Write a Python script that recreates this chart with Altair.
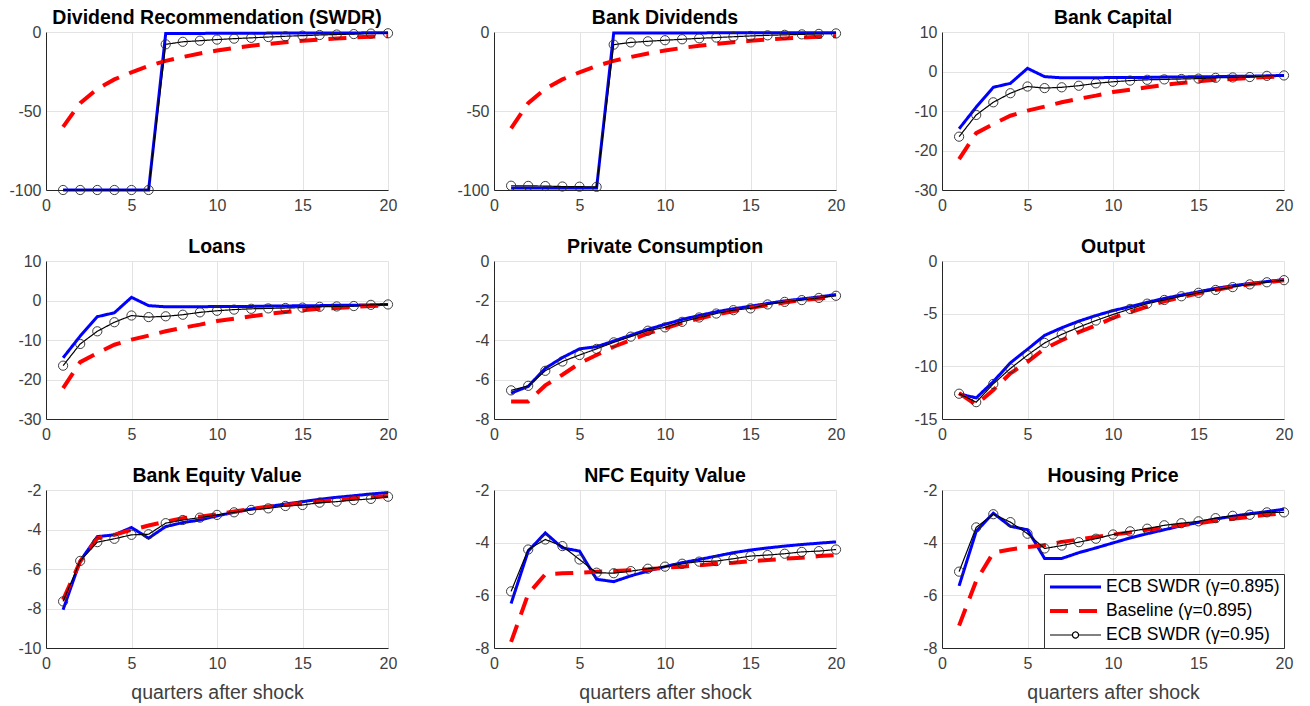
import altair as alt
import pandas as pd

quarters = list(range(1, 21))

series_names = ["ECB SWDR (γ=0.895)", "Baseline (γ=0.895)", "ECB SWDR (γ=0.95)"]
series_colors = ["#0000ff", "#ff0000", "#000000"]

titles = ["Dividend Recommendation (SWDR)", "Bank Dividends", "Bank Capital",
          "Loans", "Private Consumption", "Output",
          "Bank Equity Value", "NFC Equity Value", "Housing Price"]

# --- Dividend Recommendation (SWDR)
divrec_blue = [-100, -100, -100, -100, -100, -100, -1.0, -0.9, -0.9, -0.8, -0.8, -0.8, -0.7, -0.7, -0.7, -0.6, -0.6, -0.6, -0.5, -0.5]
divrec_red = [-60, -45, -36, -30, -25.5, -21.5, -18.3, -15.8, -13.6, -11.7, -10.1, -8.7, -7.5, -6.5, -5.6, -4.8, -4.1, -3.5, -3.0, -2.6]
divrec_black = [-100, -100, -100, -100, -100, -100, -7.8, -6.2, -5.5, -4.8, -4.2, -3.7, -3.2, -2.7, -2.3, -1.9, -1.6, -1.3, -1.0, -0.8]
# --- Bank Dividends
bdiv_blue = [-98.7, -98.7, -98.7, -98.7, -98.7, -98.7, -0.7, -0.7, -0.6, -0.6, -0.6, -0.6, -0.5, -0.5, -0.5, -0.5, -0.4, -0.4, -0.4, -0.4]
bdiv_red = [-61, -45, -36, -30, -25.5, -21.5, -18.3, -15.8, -13.6, -11.7, -10.1, -8.7, -7.5, -6.5, -5.6, -4.8, -4.1, -3.5, -3.0, -2.6]
bdiv_black = [-97.3, -97.4, -97.5, -97.8, -97.9, -98.0, -8.0, -6.6, -5.9, -5.2, -4.6, -4.0, -3.5, -3.0, -2.5, -2.1, -1.8, -1.5, -1.2, -0.9]
# --- Bank Capital
bcap_blue = [-14.5, -9.0, -4.0, -3.0, 0.8, -1.3, -1.6, -1.6, -1.6, -1.5, -1.5, -1.5, -1.4, -1.4, -1.3, -1.3, -1.2, -1.2, -1.1, -1.0]
bcap_red = [-22.2, -15.6, -13.3, -11.2, -9.9, -8.9, -7.8, -6.9, -6.1, -5.2, -4.6, -4.0, -3.4, -2.9, -2.5, -2.1, -1.9, -1.6, -1.4, -1.3]
bcap_black = [-16.5, -11.0, -7.8, -5.5, -3.8, -4.2, -4.0, -3.6, -3.0, -2.6, -2.3, -2.1, -2.0, -1.9, -1.8, -1.6, -1.5, -1.4, -1.1, -1.0]
# --- Loans
loans_blue = [-14.5, -9.0, -4.1, -3.1, 0.8, -1.3, -1.6, -1.6, -1.6, -1.5, -1.5, -1.5, -1.4, -1.4, -1.3, -1.3, -1.2, -1.2, -1.1, -1.0]
loans_red = [-22.2, -15.6, -13.3, -11.2, -9.9, -8.9, -7.8, -6.9, -6.1, -5.2, -4.6, -4.0, -3.4, -2.9, -2.5, -2.1, -1.9, -1.6, -1.4, -1.3]
loans_black = [-16.5, -11.0, -7.8, -5.5, -3.8, -4.2, -4.0, -3.6, -3.0, -2.6, -2.3, -2.1, -2.0, -1.9, -1.8, -1.6, -1.5, -1.4, -1.1, -1.0]
# --- Private Consumption
cons_blue = [-6.69, -6.35, -5.43, -4.89, -4.45, -4.34, -4.05, -3.76, -3.46, -3.21, -2.96, -2.76, -2.57, -2.42, -2.29, -2.15, -2.02, -1.92, -1.82, -1.70]
cons_red = [-7.11, -7.11, -6.30, -5.76, -5.18, -4.76, -4.34, -4.00, -3.66, -3.41, -3.13, -2.91, -2.71, -2.54, -2.37, -2.24, -2.10, -1.98, -1.90, -1.82]
cons_black = [-6.55, -6.32, -5.56, -5.09, -4.76, -4.45, -4.12, -3.83, -3.53, -3.36, -3.08, -2.86, -2.66, -2.49, -2.40, -2.20, -2.07, -1.98, -1.87, -1.76]
# --- Output
out_blue = [-12.6, -13.0, -11.45, -9.66, -8.38, -7.06, -6.34, -5.71, -5.18, -4.71, -4.33, -3.92, -3.55, -3.23, -2.92, -2.60, -2.35, -2.13, -1.95, -1.76]
out_red = [-12.55, -13.65, -12.24, -10.67, -9.57, -8.32, -7.53, -6.75, -6.12, -5.40, -4.86, -4.33, -3.83, -3.45, -3.07, -2.76, -2.45, -2.20, -2.04, -1.82]
out_black = [-12.6, -13.4, -11.67, -10.2, -8.94, -7.78, -6.97, -6.28, -5.65, -5.08, -4.55, -4.05, -3.70, -3.35, -3.02, -2.75, -2.48, -2.22, -2.02, -1.82]
# --- Bank Equity Value
beq_blue = [-8.06, -5.59, -4.36, -4.27, -3.90, -4.44, -3.85, -3.65, -3.52, -3.31, -3.13, -2.96, -2.84, -2.71, -2.59, -2.47, -2.37, -2.29, -2.20, -2.13]
beq_red = [-7.56, -5.62, -4.44, -4.27, -4.02, -3.80, -3.60, -3.43, -3.35, -3.23, -3.09, -2.96, -2.84, -2.76, -2.67, -2.59, -2.51, -2.42, -2.37, -2.30]
beq_black = [-7.64, -5.59, -4.64, -4.47, -4.27, -4.24, -3.68, -3.52, -3.40, -3.26, -3.13, -3.01, -2.93, -2.81, -2.76, -2.64, -2.59, -2.51, -2.45, -2.34]
# --- NFC Equity Value
nfc_blue = [-6.31, -4.32, -3.63, -4.20, -4.32, -5.39, -5.48, -5.26, -5.08, -4.91, -4.76, -4.64, -4.51, -4.38, -4.28, -4.20, -4.13, -4.07, -4.02, -3.97]
nfc_red = [-7.77, -5.95, -5.20, -5.16, -5.14, -5.10, -5.08, -5.05, -5.01, -4.95, -4.91, -4.86, -4.80, -4.76, -4.70, -4.66, -4.61, -4.57, -4.51, -4.47]
nfc_black = [-5.85, -4.26, -3.88, -4.13, -4.64, -5.14, -5.16, -5.08, -4.99, -4.91, -4.80, -4.72, -4.70, -4.61, -4.51, -4.47, -4.42, -4.35, -4.32, -4.26]
# --- Housing Price
house_blue = [-5.64, -3.57, -2.88, -3.38, -3.51, -4.60, -4.60, -4.38, -4.20, -4.01, -3.82, -3.66, -3.51, -3.36, -3.23, -3.10, -3.00, -2.90, -2.82, -2.73]
house_red = [-7.15, -5.45, -4.38, -4.26, -4.17, -4.10, -3.97, -3.88, -3.78, -3.69, -3.61, -3.51, -3.42, -3.34, -3.26, -3.17, -3.09, -3.02, -2.94, -2.88]
house_black = [-5.10, -3.42, -2.92, -3.22, -3.66, -4.22, -4.11, -3.98, -3.85, -3.69, -3.57, -3.47, -3.34, -3.26, -3.19, -3.07, -2.98, -2.94, -2.85, -2.85]

panel_series = [
    (divrec_blue, divrec_red, divrec_black),
    (bdiv_blue, bdiv_red, bdiv_black),
    (bcap_blue, bcap_red, bcap_black),
    (loans_blue, loans_red, loans_black),
    (cons_blue, cons_red, cons_black),
    (out_blue, out_red, out_black),
    (beq_blue, beq_red, beq_black),
    (nfc_blue, nfc_red, nfc_black),
    (house_blue, house_red, house_black),
]
y_domains = [[-100, 0], [-100, 0], [-30, 10], [-30, 10], [-8, 0], [-15, 0], [-10, -2], [-8, -2], [-8, -2]]
y_ticks = [[-100, -50, 0], [-100, -50, 0], [-30, -20, -10, 0, 10], [-30, -20, -10, 0, 10],
           [-8, -6, -4, -2, 0], [-15, -10, -5, 0], [-10, -8, -6, -4, -2], [-8, -6, -4, -2], [-8, -6, -4, -2]]
x_ticks = [0, 5, 10, 15, 20]
x_title = "quarters after shock"

FONT = "Liberation Sans"
BLACK_SYMBOL = "M-1,0H-0.12M0.12,0H1M-0.12,0A0.12,0.12,0,1,1,0.12,0A0.12,0.12,0,1,1,-0.12,0"


def make_legend(use_expr):
    kw = dict(title=None, orient="bottom-right", offset=0, symbolSize=2601, clipHeight=18,
              rowPadding=6, padding=4, labelFont=FONT, labelFontSize=17.5, labelColor="#000000",
              labelOffset=3, labelLimit=400, strokeColor="#333333", fillColor="white")
    if use_expr:
        kw["symbolType"] = alt.ExprRef(
            expr="indexof(datum.value, '0.95)') >= 0 ? '" + BLACK_SYMBOL + "' : 'stroke'")
    else:
        kw["symbolType"] = "stroke"
    return alt.Legend(**kw)


def make_panel(i, use_expr):
    blue, red, black = panel_series[i]
    rows = []
    for name, vals in zip(series_names, (blue, red, black)):
        for q, v in zip(quarters, vals):
            rows.append({"t": q, "value": v, "series": name})
    df = pd.DataFrame(rows)
    bottom = i >= 6
    leg = make_legend(use_expr) if i == 8 else None
    x = alt.X("t:Q", scale=alt.Scale(domain=[0, 20], nice=False),
              axis=alt.Axis(values=x_ticks, title=x_title if bottom else None, labelFlush=False))
    y = alt.Y("value:Q", scale=alt.Scale(domain=y_domains[i], nice=False, zero=False),
              axis=alt.Axis(values=y_ticks[i], title=None, labelExpr="'' + datum.value", labelFlush=False))
    color = alt.Color("series:N", scale=alt.Scale(domain=series_names, range=series_colors), legend=leg)
    dash = alt.StrokeDash("series:N", scale=alt.Scale(domain=series_names, range=[[1, 0], [18, 11], [1, 0]]), legend=leg)
    width = alt.StrokeWidth("series:N", scale=alt.Scale(type="ordinal", domain=series_names, range=[3, 4, 1.2]), legend=leg)
    layers = []
    for name in series_names:
        layers.append(
            alt.Chart(df).transform_filter(alt.datum.series == name)
            .mark_line().encode(x=x, y=y, color=color, strokeDash=dash, strokeWidth=width)
        )
    layers.append(
        alt.Chart(df).transform_filter(alt.datum.series == series_names[2])
        .mark_point(shape="circle", filled=False, size=85, strokeWidth=1, color="#2a2a2a", opacity=0.9)
        .encode(x=x, y=y)
    )
    return alt.layer(*layers).properties(width=342, height=158, title=titles[i])


def build(use_expr):
    panels = [make_panel(i, use_expr) for i in range(9)]
    chart = alt.concat(*panels, columns=3, spacing={"row": 71, "column": 106}, bounds="flush")
    chart = chart.resolve_scale(x="independent", y="independent", color="independent",
                                strokeDash="independent", strokeWidth="independent")
    chart = chart.properties(padding={"left": 8, "top": 7, "right": 10, "bottom": 5})
    chart = chart.configure_view(stroke=None).configure_axis(
        labelFont=FONT, labelFontSize=16, labelColor="#404040", domainColor="#262626",
        domainWidth=1, gridColor="#e3e3e3", gridWidth=1, ticks=False, labelPadding=5,
        titleFont=FONT, titleFontSize=19.5, titleFontWeight="normal", titleColor="#404040",
        titlePadding=12,
    ).configure_axisX(labelPadding=7).configure_title(
        font=FONT, fontSize=19.5, fontWeight="bold", color="#000000", anchor="middle",
        baseline="alphabetic", offset=-4, frame="group",
    )
    return chart


try:
    chart = build(True)
    chart.save("out.html", embed_options={"renderer": "svg", "actions": False})
except Exception:
    chart = build(False)
    chart.save("out.html", embed_options={"renderer": "svg", "actions": False})
